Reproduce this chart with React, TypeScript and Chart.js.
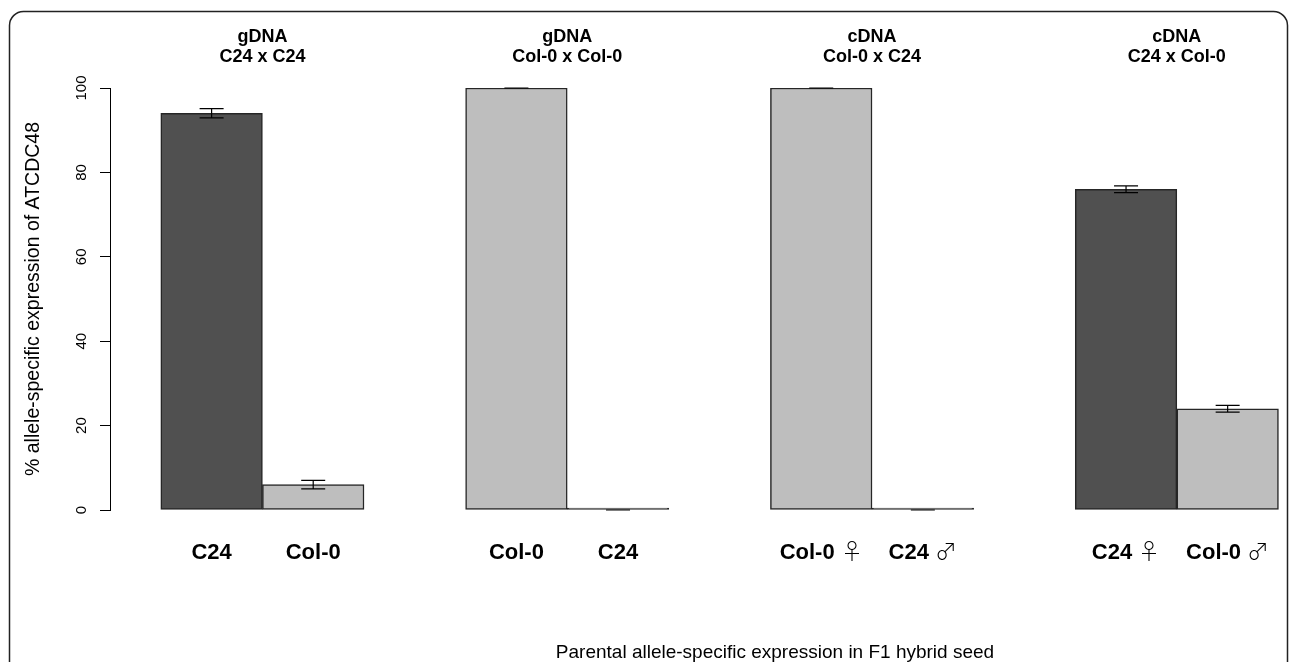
import { useEffect, useRef } from "react";
import { Chart, registerables } from "chart.js";

Chart.register(...registerables);

// ---- data ----
const groupTitles: string[][] = [
  ["gDNA", "C24 x C24"],
  ["gDNA", "Col-0 x Col-0"],
  ["cDNA", "Col-0 x C24"],
  ["cDNA", "C24 x Col-0"],
];
const barLabels = ["C24", "Col-0", "Col-0", "C24", "Col-0 ♀", "C24 ♂", "C24 ♀", "Col-0 ♂"];
const barAlleles = ["C24", "Col-0", "Col-0", "C24", "Col-0", "C24", "C24", "Col-0"];
const values = [94, 6, 100, 0, 100, 0, 76, 24];
const errors = [1.1, 1.0, 0, 0, 0, 0, 0.8, 0.8];
const yTicks = [0, 20, 40, 60, 80, 100];
const yTitle = "% allele-specific expression of ATCDC48";
const xTitle = "Parental allele-specific expression in F1 hybrid seed";

const FONT = "'Liberation Sans', Arial, Helvetica, sans-serif";
const LABEL_FONT = "SexSymbols, 'Liberation Sans', Arial, Helvetica, sans-serif";
const alleleColor: Record<string, string> = { C24: "#505050", "Col-0": "#bebebe" };

// bar i sits in group floor(i/2), slot i%2; one empty slot between groups
const barPos = (i: number) => Math.floor(i / 2) * 3 + (i % 2);
const groupPos = (g: number) => g * 3 + 0.5;

const X_MIN = -1;
const X_MAX = 12.09;

const framePlugin = {
  id: "frame",
  beforeDraw(chart: any) {
    const { ctx } = chart;
    ctx.save();
    ctx.strokeStyle = "#222";
    ctx.lineWidth = 1.5;
    ctx.beginPath();
    ctx.roundRect(9.5, 11.5, 1278, 700, 14);
    ctx.stroke();
    ctx.restore();
  },
};

const errorBarPlugin = {
  id: "errorBars",
  afterDatasetsDraw(chart: any) {
    const { ctx } = chart;
    const meta = chart.getDatasetMeta(0);
    const y = chart.scales.y;
    ctx.save();
    ctx.strokeStyle = "#000";
    ctx.lineWidth = 1.2;
    meta.data.forEach((el: any, i: number) => {
      const v = values[i];
      const e = errors[i];
      const x = el.x;
      const y1 = y.getPixelForValue(v - e);
      const y2 = y.getPixelForValue(v + e);
      const hw = 12;
      ctx.beginPath();
      ctx.moveTo(x, y1);
      ctx.lineTo(x, y2);
      ctx.moveTo(x - hw, y1);
      ctx.lineTo(x + hw, y1);
      ctx.moveTo(x - hw, y2);
      ctx.lineTo(x + hw, y2);
      ctx.stroke();
    });
    ctx.restore();
  },
};

const SYMBOL_FACE = `@font-face {
  font-family: "SexSymbols";
  src: local("Noto Sans CJK JP Light"), local("NotoSansCJKjp-Light"),
       local("Noto Sans CJK JP DemiLight"), local("NotoSansCJKjp-DemiLight"),
       local("Noto Sans CJK JP Regular"), local("NotoSansCJKjp-Regular"),
       local("Noto Sans CJK JP");
  font-weight: 100 900;
  unicode-range: U+2640, U+2642;
}`;

export default function App() {
  const ref = useRef<HTMLCanvasElement | null>(null);

  useEffect(() => {
    if (!ref.current) return;
    const style = document.createElement("style");
    style.textContent = SYMBOL_FACE;
    document.head.appendChild(style);

    const chart = new Chart(ref.current, {
      type: "bar",
      data: {
        datasets: [
          {
            data: values.map((v, i) => ({ x: barPos(i), y: v })) as any,
            backgroundColor: barAlleles.map((a) => alleleColor[a]),
            borderColor: "#262626",
            borderWidth: 1.5,
            borderSkipped: false,
            minBarLength: 2,
            categoryPercentage: 1,
            barPercentage: 1,
          },
        ],
      },
      plugins: [framePlugin, errorBarPlugin],
      options: {
        animation: false,
        responsive: true,
        maintainAspectRatio: false,
        layout: { padding: { top: 0, left: 0, right: 0, bottom: 0 } },
        plugins: { legend: { display: false }, tooltip: { enabled: false } },
        scales: {
          x: {
            type: "linear",
            position: "bottom",
            offset: false,
            min: X_MIN,
            max: X_MAX,
            afterBuildTicks: (s: any) => {
              s.ticks = values.map((_, i) => ({ value: barPos(i) }));
            },
            afterFit: (s: any) => {
              s.height = 152;
            },
            grid: { display: false, drawTicks: false, offset: false },
            border: { display: false },
            ticks: {
              autoSkip: false,
              maxRotation: 0,
              minRotation: 0,
              padding: 30,
              color: "#000",
              font: { family: LABEL_FONT, size: 22, weight: "bold" },
              callback: (_v: any, idx: number) => barLabels[idx],
            },
            title: {
              display: true,
              text: xTitle,
              color: "#000",
              font: { family: FONT, size: 19, lineHeight: 1 },
              padding: { top: 0, bottom: 0 },
            },
          },
          x2: {
            type: "linear",
            axis: "x",
            position: "top",
            offset: false,
            min: X_MIN,
            max: X_MAX,
            afterBuildTicks: (s: any) => {
              s.ticks = groupTitles.map((_, g) => ({ value: groupPos(g) }));
            },
            afterFit: (s: any) => {
              s.height = 88;
            },
            grid: { display: false, drawTicks: false, offset: false },
            border: { display: false },
            ticks: {
              autoSkip: false,
              maxRotation: 0,
              minRotation: 0,
              padding: 21,
              color: "#000",
              font: { family: FONT, size: 18, weight: "bold", lineHeight: 1.12 },
              callback: (_v: any, idx: number) => groupTitles[idx],
            },
          },
          y: {
            type: "linear",
            min: 0,
            max: 100,
            afterBuildTicks: (s: any) => {
              s.ticks = yTicks.map((v) => ({ value: v }));
            },
            afterFit: (s: any) => {
              s.width = 110;
            },
            grid: {
              drawOnChartArea: false,
              drawTicks: true,
              tickLength: 10,
              color: "#000",
              lineWidth: 1,
            },
            border: { display: true, color: "#000", width: 1 },
            ticks: {
              minRotation: 90,
              maxRotation: 90,
              crossAlign: "center",
              padding: 6,
              color: "#000",
              font: { family: FONT, size: 15 },
            },
            title: {
              display: true,
              text: yTitle,
              color: "#000",
              font: { family: FONT, size: 19.5 },
              padding: { top: 22, bottom: 0 },
            },
          },
        },
      } as any,
    });

    let alive = true;
    document.fonts
      .load(`bold 22px SexSymbols`, "♀♂")
      .catch(() => undefined)
      .then(() => {
        if (alive) chart.update();
      });

    return () => {
      alive = false;
      chart.destroy();
      style.remove();
    };
  }, []);

  return (
    <div
      style={{
        position: "fixed",
        left: 0,
        top: 0,
        width: 1290,
        height: 662,
        overflow: "hidden",
        background: "#fff",
      }}
    >
      <div style={{ position: "absolute", left: 0, top: 0, width: 1440, height: 662 }}>
        <canvas ref={ref} />
      </div>
    </div>
  );
}
